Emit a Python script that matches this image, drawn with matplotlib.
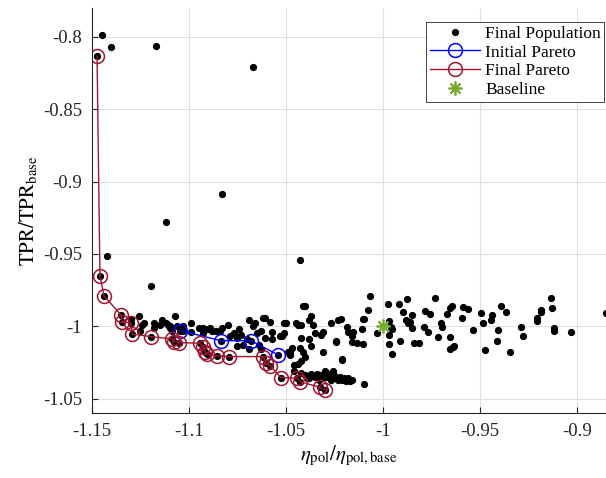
import matplotlib
matplotlib.use('Agg')
import matplotlib.pyplot as plt
import numpy as np

# Final population (besides the pareto points)
pop_x = [
    -1.145, -1.1404, -1.1172, -1.0669, -1.0828, -1.112, -1.1423, -1.1197, -1.043, -1.040,
    -0.8851, -1.010,
    # left cluster
    -1.126, -1.124, -1.123, -1.118, -1.115, -1.114, -1.112, -1.111, -1.110, -1.107,
    -1.106, -1.103, -1.099, -1.099, -1.093, -1.090, -1.088, -1.086, -1.083, -1.080,
    -1.079, -1.077, -1.075, -1.074, -1.073, -1.072, -1.070, -1.069, -1.067, -1.066,
    -1.065, -1.064, -1.063, -1.063, -1.061, -1.061, -1.058, -1.057, -1.057, -1.051,
    -1.050, -1.048, -1.048, -1.046, -1.044, -1.042, -1.041, -1.038, -1.037, -1.038,
    -1.036, -1.035, -1.032, -1.031, -1.027, -1.024, -1.021, -1.018, -1.023,
    -1.125, -1.118, -1.110, -1.109, -1.103, -1.093, -1.130, -1.095, -1.062, -1.051,
    -1.045, -1.053, -1.047, -1.042, -1.075, -1.069, -1.084, -1.089,
    # middle
    -1.049, -1.043, -1.041, -1.040, -1.044, -1.046, -1.031, -1.042, -1.037, -1.024,
    -1.052, -1.039,
    # lower row
    -1.034, -1.032, -1.030, -1.029, -1.026, -1.025, -1.022, -1.020, -1.019,
    -1.042, -1.040, -1.038, -1.037, -1.035, -1.033, -1.031, -1.028, -1.027, -1.024,
    -1.023, -1.021, -1.018, -1.017, -1.016,
    # around baseline
    -1.0067, -0.9976, -0.9916, -0.9875, -0.9732, -1.0079, -1.0098, -1.0105, -0.9898, -0.9849,
    -0.9782, -0.9758, -0.9672, -0.9655, -0.9643, -0.9586, -0.9563, -0.9591, -1.0218, -1.0187,
    -1.0156, -1.0161, -1.0108, -0.9968, -0.9960, -0.9955, -1.0033, -0.9968, -0.9883, -0.9873,
    -0.9861, -0.9852, -0.9789, -0.9766, -0.9703, -0.9698, -1.0161, -1.0132, -1.0105, -0.9912,
    -0.9840, -0.9814, -0.9718, -0.9655, -0.9968, -0.9955, -0.9655, -0.9641, -0.9634, -1.0213,
    # right part
    -0.9496, -0.9440, -0.9443, -0.9483, -0.9538, -0.9392, -0.9368, -0.9409, -0.9414, -0.9474,
    -0.9345, -0.9290, -0.9277, -0.9208, -0.9208, -0.9187, -0.9184, -0.9136, -0.9127, -0.9119,
    -0.9119, -0.9031,
]
pop_y = [
    -0.7985, -0.807, -0.806, -0.8205, -0.9085, -0.9277, -0.9512, -0.9721, -0.9541, -0.9858,
    -0.991, -1.040,
    # left cluster
    -0.993, -0.999, -0.998, -0.998, -0.999, -0.996, -0.998, -0.999, -1.000, -0.993,
    -1.000, -1.000, -0.998, -1.004, -1.005, -1.002, -1.003, -1.003, -1.001, -0.999,
    -1.007, -1.005, -1.008, -1.002, -1.006, -1.013, -1.009, -0.996, -1.000, -0.998,
    -1.005, -1.013, -1.016, -1.003, -0.994, -1.008, -0.997, -1.004, -1.009, -1.005,
    -0.998, -1.018, -1.020, -1.027, -0.999, -0.999, -0.986, -0.996, -0.993, -1.009,
    -0.999, -1.005, -1.006, -1.004, -0.998, -1.011, -1.023, -1.004, -0.996,
    -1.003, -1.001, -1.001, -1.003, -1.003, -1.001, -0.995, -1.001, -0.994, -0.998,
    -0.998, -1.007, -1.015, -1.024, -1.014, -1.016, -1.003, -1.001,
    # middle
    -1.018, -1.015, -1.018, -1.021, -1.026, -1.031, -1.018, -1.008, -1.014, -1.010,
    -1.007, -1.036,
    # lower row
    -1.033, -1.034, -1.031, -1.035, -1.031, -1.034, -1.035, -1.036, -1.038,
    -1.032, -1.034, -1.036, -1.033, -1.035, -1.037, -1.036, -1.033, -1.037, -1.036,
    -1.037, -1.037, -1.036, -1.038, -1.037,
    # around baseline
    -0.9788, -0.9846, -0.9846, -0.9813, -0.9802, -0.9887, -0.9947, -0.9947, -0.9899, -0.9924,
    -0.9892, -0.9913, -0.9917, -0.9871, -0.9860, -0.9864, -0.9882, -0.9941, -0.9952, -1.0003,
    -1.0037, -1.0067, -1.0021, -0.9961, -1.0003, -1.0021, -1.0048, -1.0060, -0.9956, -0.9975,
    -0.9968, -1.0014, -1.0007, -1.0039, -0.9979, -1.0007, -1.0111, -1.0118, -1.0124, -1.0102,
    -1.0113, -1.0113, -1.0072, -1.0076, -1.0124, -1.0192, -1.0159, -1.0141, -1.0134, -1.0233,
    # right part
    -0.9906, -0.9920, -0.9956, -0.9979, -1.0026, -0.9862, -0.9903, -1.0026, -1.0102, -1.0164,
    -1.0180, -1.0003, -1.0067, -0.9945, -0.9961, -0.9887, -0.9899, -0.9806, -0.9871, -1.0014,
    -1.0030, -1.0037,
]

# Initial pareto front
init_x = [-1.1046, -1.0835, -1.0682, -1.0540]
init_y = [-1.0030, -1.0100, -1.0100, -1.0198]

# Final pareto front
final_x = [-1.1474, -1.1459, -1.1438, -1.1351, -1.1344, -1.1300, -1.1292, -1.1196, -1.1086,
           -1.1076, -1.1050, -1.0943, -1.0926, -1.0918, -1.0906, -1.0857, -1.0794, -1.0617,
           -1.0603, -1.0582, -1.0526, -1.0442, -1.0428, -1.0325, -1.0299]
final_y = [-0.8131, -0.9652, -0.9790, -0.9922, -0.9968, -0.9979, -1.0055, -1.0072, -1.0088,
           -1.0106, -1.0113, -1.0118, -1.0141, -1.0176, -1.0192, -1.0205, -1.0210, -1.0210,
           -1.0256, -1.0272, -1.0355, -1.0360, -1.0383, -1.0422, -1.0440]

base_x = [-1.0]
base_y = [-1.0]

plt.rcParams['font.family'] = ['Liberation Serif', 'DejaVu Serif']
plt.rcParams['mathtext.fontset'] = 'stix'
plt.rcParams['axes.unicode_minus'] = False

fig = plt.figure(figsize=(6.06, 4.78), dpi=100)
ax = fig.add_axes([92 / 606, 65 / 478, 514 / 606, 405 / 478])

ax.plot(pop_x + final_x + init_x, pop_y + final_y + init_y, 'o', color='black',
        markersize=4.2, linestyle='none', label='Final Population')
ax.plot(init_x, init_y, '-o', color='#0000ff', mfc='none', markersize=10,
        linewidth=1.0, markeredgewidth=1.1, label='Initial Pareto')
ax.plot(final_x, final_y, '-o', color='#A2142F', mfc='none', markersize=10,
        linewidth=1.0, markeredgewidth=1.1, label='Final Pareto')
ax.plot(base_x, base_y, linestyle='none', marker=(8, 2, 0), color='#77AC30',
        markersize=10, markeredgewidth=1.3, label='Baseline')

ax.set_xlim(-1.15, -0.885)
ax.set_ylim(-1.06, -0.78)
ax.set_xticks([-1.15, -1.1, -1.05, -1, -0.95, -0.9])
ax.set_xticklabels(['-1.15', '-1.1', '-1.05', '-1', '-0.95', '-0.9'])
ax.set_yticks([-1.05, -1, -0.95, -0.9, -0.85, -0.8])
ax.set_yticklabels(['-1.05', '-1', '-0.95', '-0.9', '-0.85', '-0.8'])

ax.grid(True, color='#e0e0e0', linewidth=0.8)
ax.set_axisbelow(True)
for s in ['top', 'right']:
    ax.spines[s].set_visible(False)
for s in ['left', 'bottom']:
    ax.spines[s].set_color('#262626')
    ax.spines[s].set_linewidth(0.8)
ax.tick_params(direction='in', length=4, width=0.8, colors='#262626',
               labelsize=13.5, pad=7)

ax.set_xlabel(r'$\eta_{\mathrm{pol}}/\eta_{\mathrm{pol,base}}$', fontsize=15, labelpad=3)
ax.set_ylabel(r'$\mathrm{TPR/TPR_{base}}$', fontsize=15, labelpad=3)

leg = ax.legend(loc='upper right', bbox_to_anchor=(0.997, 0.965), borderaxespad=0,
                fontsize=12.5, fancybox=False, edgecolor='#262626', framealpha=1,
                handlelength=2.9, labelspacing=0.15, borderpad=0.2, handletextpad=0.3)
leg.get_frame().set_linewidth(0.6)

plt.savefig('out.png', dpi=100)
